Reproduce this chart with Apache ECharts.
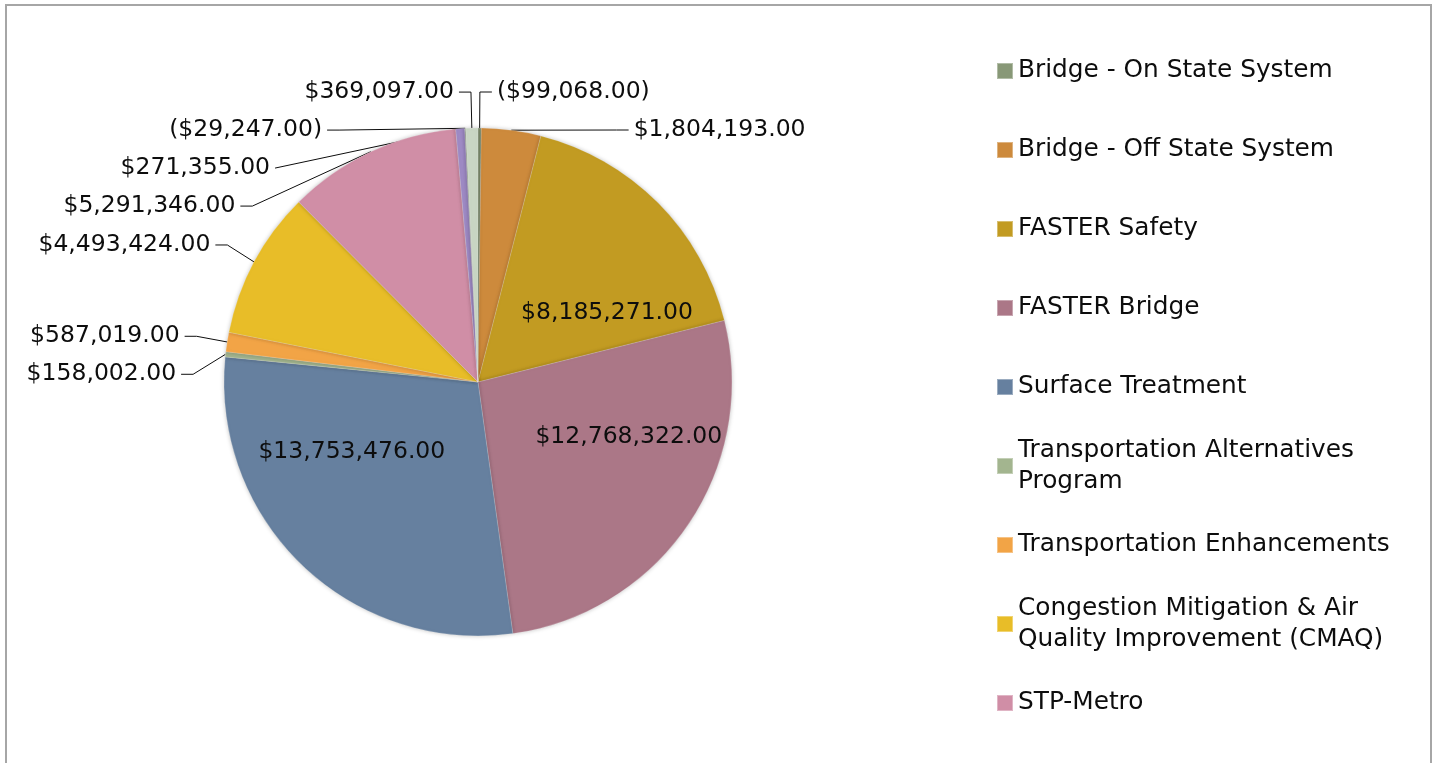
<!DOCTYPE html>
<html>
<head>
<meta charset="utf-8">
<script src="https://cdn.jsdelivr.net/npm/echarts@6/dist/echarts.min.js"></script>
<style>
  html, body { margin: 0; padding: 0; background: #fff; overflow: hidden; }
  #frame {
    position: absolute; left: 5px; top: 4px; width: 1427px; height: 800px;
    border: 2px solid #a6a6a6; border-bottom: none; box-sizing: border-box;
  }
  #chart { position: absolute; left: 0; top: 0; width: 1439px; height: 763px; }
</style>
</head>
<body>
<div id="frame"></div>
<div id="chart"></div>
<script>
const categories = [
  "Bridge - On State System",
  "Bridge - Off State System",
  "FASTER Safety",
  "FASTER Bridge",
  "Surface Treatment",
  "Transportation Alternatives Program",
  "Transportation Enhancements",
  "Congestion Mitigation & Air Quality Improvement (CMAQ)",
  "STP-Metro",
  "Other 1",
  "Other 2",
  "Other 3",
];
const amounts = [
  -99068, 1804193, 8185271, 12768322, 13753476, 158002,
  587019, 4493424, 5291346, 271355, -29247, 369097,
];
const colors = [
  "#889877", "#cd8a3c", "#c29b22", "#ab7787", "#66809f", "#a3b58f",
  "#f2a446", "#e8bd28", "#d08ea6", "#9e8ac4", "#8f9d8a", "#c9d6c4",
];
// only the first nine show up in the legend
const legendNames = categories.slice(0, 9);
const legendText = {
  "Transportation Alternatives Program": "Transportation Alternatives\nProgram",
  "Congestion Mitigation & Air Quality Improvement (CMAQ)":
    "Congestion Mitigation & Air\nQuality Improvement (CMAQ)",
};

const FONT = "'Century Gothic', 'DejaVu Sans', sans-serif";

function money(v) {
  const s = "$" + Math.abs(v).toLocaleString("en-US", {
    minimumFractionDigits: 2,
    maximumFractionDigits: 2,
  });
  return v < 0 ? "(" + s + ")" : s;
}

const total = amounts.reduce((a, b) => a + Math.abs(b), 0);
const isBig = (i) => Math.abs(amounts[i]) / total > 0.15;

const pieData = categories.map((name, i) => ({
  name,
  value: Math.abs(amounts[i]),
  raw: amounts[i],
  itemStyle: { color: colors[i] },
  label: isBig(i)
    ? { position: "inside", lineHeight: 28 }
    : { position: "outside", lineHeight: 36 },
  labelLine: { show: !isBig(i) },
}));

const CX = 478, CY = 382, R = 254;
const LINE_H = 31;

const legends = legendNames.map((name, i) => {
  const twoLine = legendText[name] !== undefined;
  const firstLineY = 71 + i * 79;
  return {
    show: true,
    orient: "vertical",
    left: 996,
    top: firstLineY - LINE_H / 2 - (twoLine ? LINE_H : 0),
    padding: 0,
    icon: "rect",
    itemWidth: 16,
    itemHeight: 16,
    selectedMode: false,
    data: [name],
    formatter: (n) => legendText[n] || n,
    textStyle: {
      fontFamily: FONT,
      fontSize: 24.8,
      lineHeight: LINE_H,
      color: "#0d0d0d",
      padding: twoLine ? [LINE_H, 0, 0, 0] : 0,
    },
  };
});

const chart = echarts.init(document.getElementById("chart"), null, { renderer: "canvas" });

chart.setOption({
  backgroundColor: "transparent",
  animation: false,
  legend: legends,
  series: [
    {
      type: "pie",
      center: [CX, CY],
      radius: R,
      startAngle: 90,
      clockwise: true,
      avoidLabelOverlap: true,
      itemStyle: {
        borderColor: "rgba(255,255,255,0.35)",
        borderWidth: 0.5,
        shadowBlur: 4,
        shadowColor: "rgba(0,0,0,0.25)",
      },
      label: {
        show: true,
        fontFamily: FONT,
        fontSize: 23.5,
        color: "#0d0d0d",
        formatter: (p) => money(p.data.raw),
      },
      labelLine: {
        show: true,
        length: 36,
        length2: 12,
        lineStyle: { color: "#0d0d0d", width: 1 },
      },
      labelLayout: (p) => {
        // inside labels sit a little wider and flatter than the half-radius default
        if (!isBig(p.dataIndex)) return {};
        const r = p.labelRect;
        const mx = r.x + r.width / 2 - CX;
        const my = r.y + r.height / 2 - CY;
        return { dx: mx * 0.4, dy: -my * 0.25 };
      },
      emphasis: { disabled: true },
      data: pieData,
    },
  ],
});
</script>
</body>
</html>
